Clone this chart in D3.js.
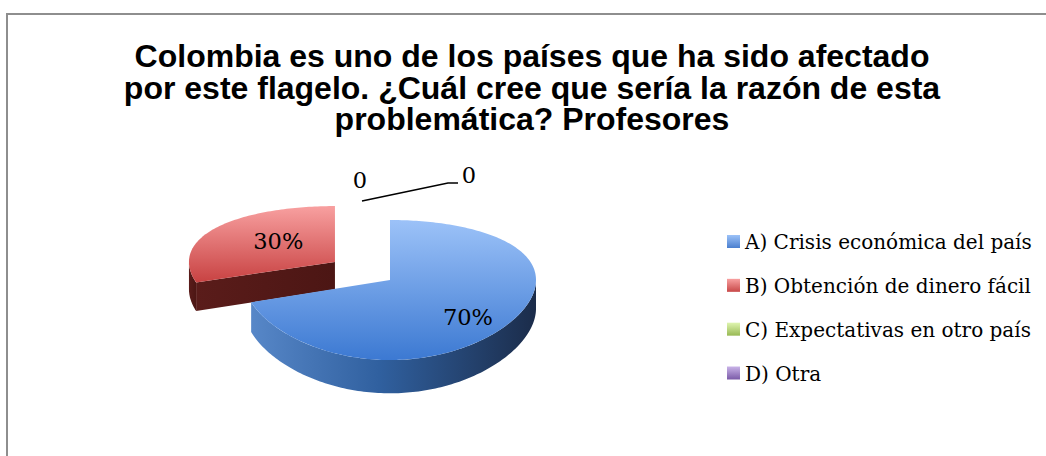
<!DOCTYPE html>
<html>
<head>
<meta charset="utf-8">
<script src="https://cdn.jsdelivr.net/npm/d3@7"></script>
<style>
  body { margin: 0; background: #fff; }
  svg { display: block; }
</style>
</head>
<body>
<script>
'use strict';

var titleLines = [
  "Colombia es uno de los países que ha sido afectado",
  "por este flagelo. ¿Cuál cree que sería la razón de esta",
  "problemática? Profesores"
];
var categories = [
  "A) Crisis económica del país",
  "B) Obtención de dinero fácil",
  "C) Expectativas en otro país",
  "D) Otra"
];
var values = [70, 30, 0, 0];
var sliceLabels = ["70%", "30%", "0", "0"];

var width = 1046, height = 456;
var svg = d3.select("body").append("svg")
  .attr("width", width)
  .attr("height", height);

// frame
svg.append("rect")
  .attr("x", 7).attr("y", 14)
  .attr("width", width + 20).attr("height", height + 20)
  .attr("fill", "#fff")
  .attr("stroke", "#8e8e8e")
  .attr("stroke-width", 2);

// title
svg.append("text")
  .attr("x", 532).attr("y", 67)
  .attr("text-anchor", "middle")
  .style("font-family", "'Liberation Sans', Arial, sans-serif")
  .style("font-weight", "bold")
  .style("font-size", "32px")
  .selectAll("tspan").data(titleLines).enter().append("tspan")
    .attr("x", 532)
    .attr("dy", function(d, i) { return i ? 31.6 : 0; })
    .text(function(d) { return d; });

// colours
var defs = svg.append("defs");
function grad(id, stops, vertical) {
  var g = defs.append("linearGradient").attr("id", id)
    .attr("x1", 0).attr("y1", 0)
    .attr("x2", vertical ? 0 : 1).attr("y2", vertical ? 1 : 0);
  stops.forEach(function(s) {
    g.append("stop").attr("offset", s[0]).attr("stop-color", s[1]);
  });
}
grad("topA", [[0, "#9cc2f8"], [1, "#3c79d2"]], true);
grad("sideA", [[0, "#5787c8"], [0.45, "#30609f"], [1, "#1b2c4a"]], false);
grad("topB", [[0, "#f8a0a0"], [1, "#c84242"]], true);
grad("sideB", [[0, "#5a1c1a"], [1, "#4c1614"]], false);
grad("legA", [[0, "#9cc2f8"], [1, "#4a7fcf"]], true);
grad("legB", [[0, "#f8a0a0"], [1, "#c84848"]], true);
grad("legC", [[0, "#dff5b0"], [1, "#98b954"]], true);
grad("legD", [[0, "#c9b3e8"], [1, "#7a5aa8"]], true);
var topFill = ["url(#topA)", "url(#topB)", "#c3dc8a", "#a48cc8"];
var sideFill = ["url(#sideA)", "url(#sideB)", "#6f8a3a", "#5a4580"];
var legFill = ["url(#legA)", "url(#legB)", "url(#legC)", "url(#legD)"];

// pie geometry (simple perspective: back is squashed, front stretched)
var cx = 390, cy = 280, rx = 146, ry = 68.6, depth = 28.5, persp = 0.143;
var explode = [0, 0.466, 0, 0];
var labelR = [0.66, 0.48];
var labelDy = [9, -4];
var arcs = d3.pie().sort(null).value(function(d) { return d; })(values);

// X: right, U: toward the back, Z: downward height (px)
function proj(X, U, Z) {
  var s = 1 / (1 + persp * U);
  return [cx + X * rx, cy - U * ry * s + (Z || 0) * s];
}
function offsetOf(d, i) {
  var mid = (d.startAngle + d.endAngle) / 2;
  return [explode[i] * Math.sin(mid), explode[i] * Math.cos(mid)];
}
function pt(o, a, r, z) {
  return proj(o[0] + r * Math.sin(a), o[1] + r * Math.cos(a), z);
}
function arcPts(o, a0, a1, z) {
  var n = Math.max(2, Math.ceil(Math.abs(a1 - a0) / 0.02));
  return d3.range(n + 1).map(function(k) { return pt(o, a0 + (a1 - a0) * k / n, 1, z); });
}
var line = d3.line();

var pieG = svg.append("g");
// back slice first
[1, 0].forEach(function(i) {
  var d = arcs[i];
  if (d.endAngle - d.startAngle <= 0) return;
  var o = offsetOf(d, i);
  var g = pieG.append("g");
  var c0 = pt(o, 0, 0, 0), c1 = pt(o, 0, 0, depth);

  // cut faces that look toward the viewer
  [[d.startAngle, d.startAngle - Math.PI / 2], [d.endAngle, d.endAngle + Math.PI / 2]].forEach(function(f) {
    if (Math.cos(f[1]) < -1e-6) {
      g.append("path")
        .attr("d", line([c0, pt(o, f[0], 1, 0), pt(o, f[0], 1, depth), c1]) + "Z")
        .attr("fill", sideFill[i]);
    }
  });
  // outer wall (front half only)
  var s = Math.max(d.startAngle, Math.PI / 2), e = Math.min(d.endAngle, 3 * Math.PI / 2);
  if (e > s) {
    var wall = arcPts(o, s, e, 0).concat(arcPts(o, e, s, depth));
    g.append("path").attr("d", line(wall) + "Z").attr("fill", sideFill[i]);
  }
  // top face
  g.append("path")
    .attr("d", line([c0].concat(arcPts(o, d.startAngle, d.endAngle, 0))) + "Z")
    .attr("fill", topFill[i]);
});

// data labels
var labelFont = "'DejaVu Serif', 'Liberation Serif', serif";
arcs.forEach(function(d, i) {
  if (d.value <= 0) return;
  var o = offsetOf(d, i);
  var mid = (d.startAngle + d.endAngle) / 2;
  var p = pt(o, mid, labelR[i], 0);
  svg.append("text")
    .attr("x", p[0]).attr("y", p[1] + labelDy[i] + 8)
    .attr("text-anchor", "middle")
    .style("font-family", labelFont)
    .style("font-size", "22.5px")
    .attr("fill", "#000")
    .text(sliceLabels[i]);
});

// zero slices: labels above the pie top
var zeroIdx = arcs.map(function(d, i) { return i; }).filter(function(i) { return arcs[i].value <= 0; });
var topPt = proj(0, 1, 0);
var zeroPos = [[topPt[0] - 30, topPt[1] - 40], [topPt[0] + 79, topPt[1] - 45]];
zeroIdx.forEach(function(i, k) {
  var zp = zeroPos[k];
  svg.append("text")
    .attr("x", zp[0]).attr("y", zp[1] + 8)
    .attr("text-anchor", "middle")
    .style("font-family", labelFont)
    .style("font-size", "22.5px")
    .text(sliceLabels[i]);
});
// leader line for the second zero label
svg.append("path")
  .attr("d", line([[topPt[0] - 28, topPt[1] - 19], [topPt[0] + 58, topPt[1] - 37], [topPt[0] + 68, topPt[1] - 37]]))
  .attr("fill", "none")
  .attr("stroke", "#000")
  .attr("stroke-width", 1.5);

// legend
var legY = d3.scalePoint().domain(categories).range([241, 372.5]);
var leg = svg.append("g");
categories.forEach(function(name, i) {
  leg.append("rect")
    .attr("x", 727).attr("y", legY(name) - 6)
    .attr("width", 13).attr("height", 13)
    .attr("fill", legFill[i]);
  leg.append("text")
    .attr("x", 745).attr("y", legY(name) + 8)
    .style("font-family", labelFont)
    .style("font-size", "20px")
    .text(name);
});
</script>
</body>
</html>
